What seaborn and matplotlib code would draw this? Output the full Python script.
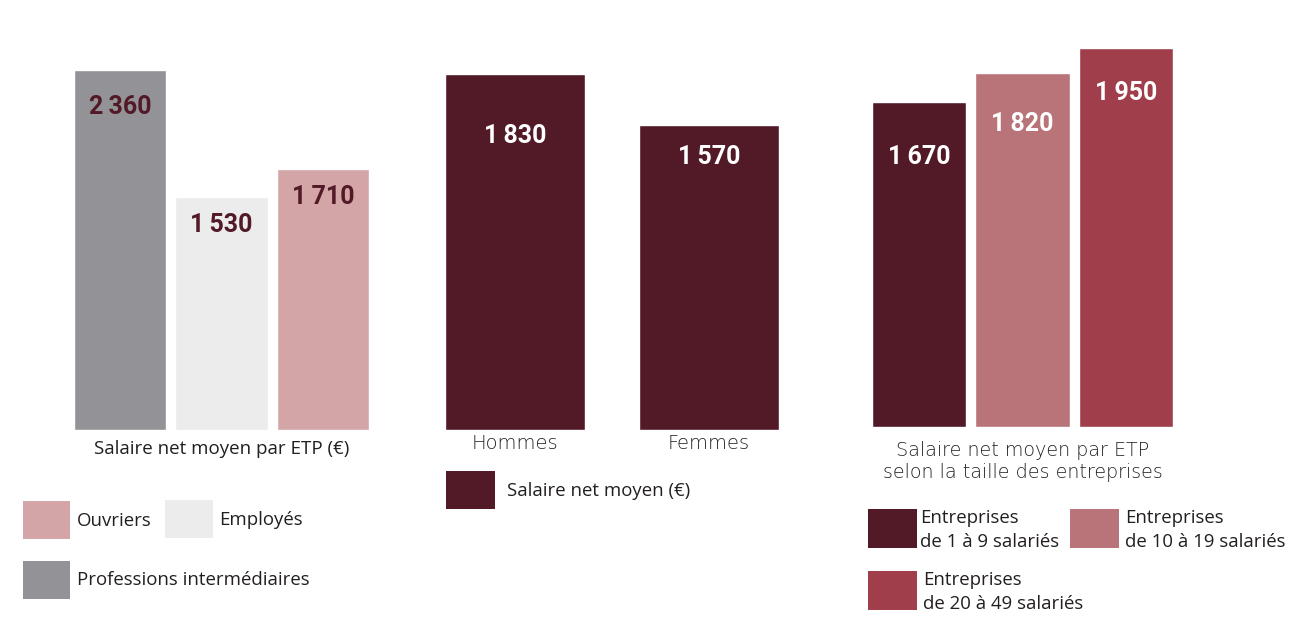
import matplotlib
matplotlib.use("Agg")
import matplotlib.pyplot as plt
import seaborn as sns
from matplotlib.patches import Rectangle

# data
csp_labels = ["Professions intermédiaires", "Employés", "Ouvriers"]
csp_values = [2360, 1530, 1710]
sexe_labels = ["Hommes", "Femmes"]
sexe_values = [1830, 1570]
taille_labels = ["Entreprises\nde 1 à 9 salariés", "Entreprises\nde 10 à 19 salariés",
                 "Entreprises\nde 20 à 49 salariés"]
taille_values = [1670, 1820, 1950]

c_gray = "#939397"
c_light = "#ececec"
c_pink = "#d4a5a7"
c_maroon = "#521a27"
c_rose = "#b87479"
c_red = "#a03f4b"

sns.set_style("white")
plt.rcParams["font.family"] = ["Open Sans", "DejaVu Sans"]

W, H = 1300, 638
fig = plt.figure(figsize=(13, 6.38), dpi=100)


def fx(px):
    return px / W


def fy(py):
    return 1 - py / H


def panel(left, right, bottom, scale):
    # scale = pixels per euro, ylim 0..2500
    h = 2500 * scale
    ax = fig.add_axes([fx(left), fy(bottom), fx(right - left), h / H])
    ax.set_ylim(0, 2500)
    return ax


def draw(ax, labels, values, colors, width, lab_color, offsets):
    sns.barplot(x=labels, y=values, hue=labels, palette=colors, ax=ax,
                width=width, saturation=1, legend=False, dodge=False)
    ax.set_xlim(-0.5, len(labels) - 0.5)
    ax.axis("off")
    for i, v in enumerate(values):
        txt = f"{v:,}".replace(",", "\u2009")
        ax.annotate(txt, (i, v), xytext=(0, -offsets[i]), textcoords="offset pixels",
                    ha="center", va="center", color=lab_color, fontsize=18,
                    fontweight="bold", family=["Roboto", "DejaVu Sans"])


ax1 = panel(69, 374, 430, 0.1525)
draw(ax1, csp_labels, csp_values, [c_gray, c_light, c_pink], 0.906, c_maroon, [37, 28, 28])
ax1.text(0.5, -0.05, "Salaire net moyen par ETP (€)", transform=ax1.transAxes,
         ha="center", va="center", fontsize=13.5, color="#231f20")

ax2 = panel(418, 806, 430, 0.1944)
draw(ax2, sexe_labels, sexe_values, [c_maroon, c_maroon], 0.72, "white", [62, 32])
for i, lab in enumerate(sexe_labels):
    ax2.text(i, -68, lab, ha="center", va="center", fontsize=14, color="#222222",
             family=["DejaVu Sans"], fontweight="light")

ax3 = panel(867, 1178, 427, 0.1944)
draw(ax3, taille_labels, taille_values, [c_maroon, c_rose, c_red], 0.91, "white", [55, 51, 45])
ax3.text(0.5, -0.071, "Salaire net moyen par ETP\nselon la taille des entreprises",
         transform=ax3.transAxes, ha="center", va="center", fontsize=13.8,
         color="#222222", linespacing=1.25, family=["DejaVu Sans"], fontweight="light")


# legends
def square(x0, y0, x1, y1, color):
    fig.add_artist(Rectangle((fx(x0), fy(y1)), fx(x1 - x0), (y1 - y0) / H,
                             transform=fig.transFigure, color=color, lw=0))


def label(x, y, s, **kw):
    fig.text(fx(x), fy(y), s, ha="left", va="center", fontsize=13.4,
             color="#231f20", **kw)


square(23, 501, 70, 539, c_pink)
label(77, 521, "Ouvriers")
square(165, 500, 213, 538, c_light)
label(219, 520, "Employés")
square(23, 561, 70, 599, c_gray)
label(77, 580, "Professions intermédiaires")

square(446, 471, 495, 509, c_maroon)
label(507, 491, "Salaire net moyen (€)")

square(868, 509, 917, 548, c_maroon)
label(920, 530, taille_labels[0], linespacing=1.45)
square(1070, 509, 1119, 548, c_rose)
label(1125, 530, taille_labels[1], linespacing=1.45)
square(868, 571, 917, 610, c_red)
label(923, 592, taille_labels[2], linespacing=1.45)

fig.savefig("out.png", dpi=100)
